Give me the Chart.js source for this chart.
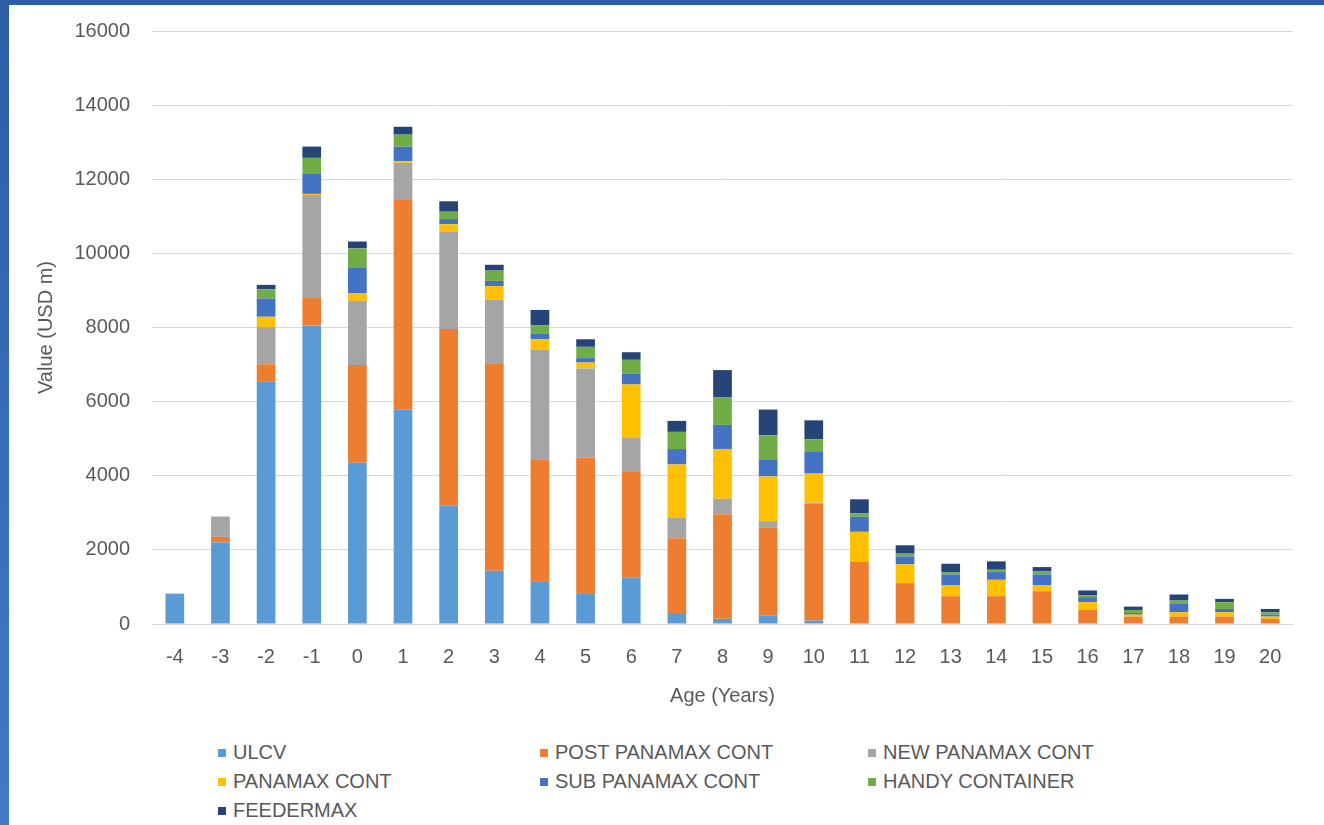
<!DOCTYPE html>
<html>
<head>
<meta charset="utf-8">
<script src="https://cdn.jsdelivr.net/npm/chart.js@4.4.1/dist/chart.umd.min.js"></script>
<style>
  html, body { margin: 0; padding: 0; }
  body {
    width: 1324px; height: 825px; overflow: hidden; position: relative;
    background: linear-gradient(180deg, #2c5ea6 0%, #3468b0 35%, #3f7cc2 100%);
    font-family: 'Liberation Sans', Arial, sans-serif;
  }
  #panel { position: absolute; left: 9px; top: 5px; width: 1315px; height: 820px; background: #fff; }
  #wrap { position: absolute; left: 0; top: -8px; width: 1315px; height: 717px; }
  #legend {
    position: absolute; left: 209px; top: 733px;
    display: grid; grid-template-columns: 322px 328px auto; grid-auto-rows: 29px;
    color: #595959; font-size: 20px;
  }
  #legend div { display: flex; align-items: center; white-space: nowrap; }
  #legend span.box { width: 8px; height: 8px; margin-right: 7px; display: inline-block; }
</style>
</head>
<body>
<div id="panel">
  <div id="wrap"><canvas id="fleet"></canvas></div>
  <div id="legend"></div>
</div>
<script>
const ages = ['-4','-3','-2','-1','0','1','2','3','4','5','6','7','8','9','10','11','12','13','14','15','16','17','18','19','20'];

const ulcv      = [820, 2200, 6550, 8055, 4350, 5790, 3190, 1435, 1157, 833, 1250, 296, 139, 231, 93, 0, 0, 0, 0, 0, 0, 0, 0, 0, 0];
const postPanamax = [0, 150, 460, 740, 2640, 5650, 4770, 5600, 3290, 3657, 2870, 2018, 2824, 2361, 3150, 1673, 1103, 750, 750, 886, 380, 199, 199, 199, 136];
const newPanamax  = [0, 550, 1000, 2780, 1730, 1000, 2640, 1713, 2960, 2407, 898, 555, 417, 185, 30, 0, 0, 0, 0, 0, 0, 0, 0, 0, 0];
const panamax   = [0, 0, 280, 30, 210, 50, 185, 370, 280, 157, 1444, 1435, 1343, 1204, 787, 814, 506, 289, 443, 154, 208, 54, 118, 118, 63];
const subPanamax = [0, 0, 490, 555, 695, 389, 140, 139, 140, 120, 296, 417, 648, 463, 602, 407, 217, 298, 208, 298, 136, 45, 226, 90, 54];
const handy     = [0, 0, 250, 417, 510, 324, 200, 278, 230, 305, 370, 463, 740, 648, 324, 90, 72, 63, 63, 90, 45, 81, 90, 181, 63];
const feedermax = [0, 0, 120, 305, 185, 213, 280, 157, 417, 204, 204, 296, 740, 694, 509, 380, 226, 226, 226, 108, 136, 90, 163, 90, 90];

const seriesNames = ['ULCV', 'POST PANAMAX CONT', 'NEW PANAMAX CONT', 'PANAMAX CONT', 'SUB PANAMAX CONT', 'HANDY CONTAINER', 'FEEDERMAX'];
const seriesData = [ulcv, postPanamax, newPanamax, panamax, subPanamax, handy, feedermax];
const seriesColors = ['#5b9bd5', '#ed7d31', '#a5a5a5', '#ffc000', '#4472c4', '#70ad47', '#264478'];

const textColor = '#595959';
const font = { family: "'Liberation Sans', Arial, sans-serif", size: 20 };

new Chart(document.getElementById('fleet'), {
  type: 'bar',
  data: {
    labels: ages,
    datasets: seriesNames.map((name, i) => ({
      label: name,
      data: seriesData[i],
      backgroundColor: seriesColors[i],
      borderWidth: 0,
      barPercentage: 0.41,
      categoryPercentage: 1
    }))
  },
  options: {
    responsive: true,
    maintainAspectRatio: false,
    animation: false,
    layout: { padding: { left: 0, top: 17, right: 31, bottom: 0 } },
    plugins: {
      legend: { display: false },
      tooltip: { enabled: false }
    },
    scales: {
      x: {
        stacked: true,
        grid: { display: false },
        border: { display: true, color: '#d9d9d9' },
        ticks: { color: textColor, font: font, padding: 13, maxRotation: 0 },
        title: { display: true, text: 'Age (Years)', color: textColor, font: font, padding: { top: 0, bottom: 6 } },
        afterFit: (scale) => { scale.height = 90; }
      },
      y: {
        stacked: true,
        min: 0,
        max: 16000,
        grid: { color: '#d9d9d9', drawTicks: false },
        border: { display: false },
        ticks: { stepSize: 2000, color: textColor, font: font, padding: 22, callback: (v) => String(v) },
        title: { display: true, text: 'Value (USD m)', color: textColor, font: font, padding: { top: 25, bottom: 0 } },
        afterFit: (scale) => { scale.width = 143; }
      }
    }
  }
});

// legend in three columns, like the original
const legend = document.getElementById('legend');
seriesNames.forEach((name, i) => {
  const item = document.createElement('div');
  item.innerHTML = '<span class="box" style="background:' + seriesColors[i] + '"></span>' + name;
  legend.appendChild(item);
});
</script>
</body>
</html>
